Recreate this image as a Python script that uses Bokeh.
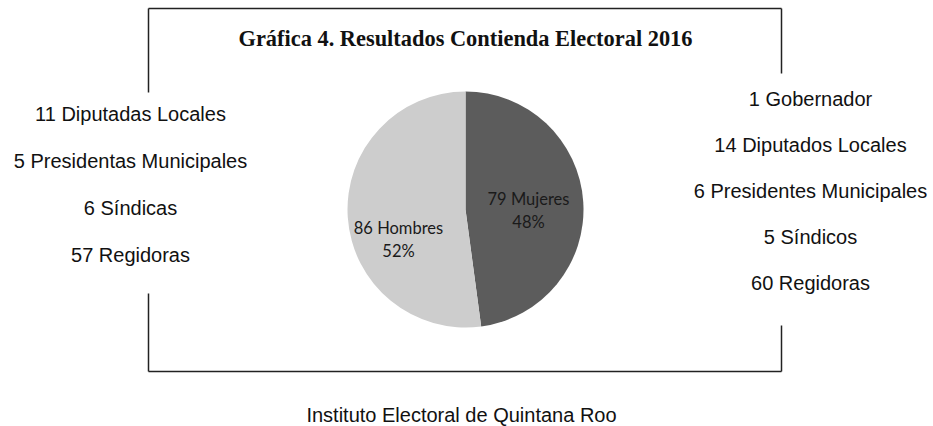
import math
from bokeh.plotting import figure
from bokeh.models import Range1d, ColumnDataSource
from bokeh.core.properties import value
from bokeh.embed import file_html
from bokeh.resources import INLINE

# ---- data ----
title = "Gráfica 4. Resultados Contienda Electoral 2016"
slice_names = ["Mujeres", "Hombres"]
slice_values = [79, 86]
slice_colors = ["#5c5c5c", "#cdcdcd"]
women_items = ["11 Diputadas Locales", "5 Presidentas Municipales", "6 Síndicas", "57 Regidoras"]
men_items = ["1 Gobernador", "14 Diputados Locales", "6 Presidentes Municipales", "5 Síndicos", "60 Regidoras"]
footer = "Instituto Electoral de Quintana Roo"

W, H = 933, 426


def Y(y):
    # convert a top-down pixel coordinate into the figure's y data space
    return H - y


p = figure(width=W, height=H, output_backend="svg", toolbar_location=None,
           x_range=Range1d(0, W), y_range=Range1d(0, H),
           min_border=0)
p.axis.visible = False
p.grid.visible = False
p.outline_line_color = None
p.background_fill_color = "white"
p.border_fill_color = "white"

# ---- frame (with gaps beside the side lists) ----
L, R, T, B = 148, 781, 8, 371
frame_xs = [[L, R], [L, R], [L, L], [L, L], [R, R], [R, R]]
frame_ys = [[Y(T), Y(T)], [Y(B), Y(B)], [Y(T), Y(92)], [Y(293), Y(B)], [Y(T), Y(73)], [Y(325), Y(B)]]
p.multi_line(frame_xs, frame_ys, line_color="#222222", line_width=1.5)

# ---- title ----
p.text(x=[465], y=[Y(38)], text=[title], text_align="center", text_baseline="middle",
       text_font=value("Liberation Serif"), text_font_style="bold", text_font_size="22.4px",
       text_color="#111111")

# ---- pie ----
cx, cy, r = 465, Y(209), 118
total = sum(slice_values)
starts, ends = [], []
a = math.pi / 2
for v in slice_values:
    span = 2 * math.pi * v / total
    ends.append(a)
    starts.append(a - span)
    a -= span
src = ColumnDataSource(dict(start=starts, end=ends, color=slice_colors))
p.wedge(x=cx, y=cy, radius=r, start_angle="start", end_angle="end",
        fill_color="color", line_color=None, source=src)

pcts = [round(100 * v / total) for v in slice_values]
lbl_x = [528, 398]
lbl_y = [198, 227]
for i in range(len(slice_values)):
    p.text(x=[lbl_x[i], lbl_x[i]], y=[Y(lbl_y[i]), Y(lbl_y[i] + 23)],
           text=[f"{slice_values[i]} {slice_names[i]}", f"{pcts[i]}%"],
           text_align="center", text_baseline="middle",
           text_font=value("Lato"), text_font_size="16.5px", text_color="#1a1a1a")

# ---- side lists ----
p.text(x=[130] * len(women_items), y=[Y(113 + 47 * i) for i in range(len(women_items))],
       text=women_items, text_align="center", text_baseline="middle",
       text_font=value("Liberation Sans"), text_font_size="20px", text_color="#111111")
p.text(x=[810] * len(men_items), y=[Y(98 + 46.2 * i) for i in range(len(men_items))],
       text=men_items, text_align="center", text_baseline="middle",
       text_font=value("Liberation Sans"), text_font_size="20px", text_color="#111111")

# ---- footer ----
p.text(x=[461], y=[Y(414)], text=[footer], text_align="center", text_baseline="middle",
       text_font=value("Liberation Sans"), text_font_size="20px", text_color="#111111")

open("out.html", "w").write(file_html(p, INLINE))
